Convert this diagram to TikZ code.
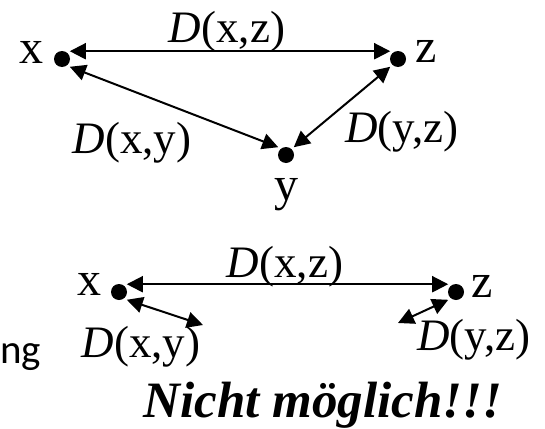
\documentclass[tikz,border=0pt]{standalone}
\usepackage{fontspec}
\setmainfont{Liberation Serif}
\newfontfamily\calibri{Carlito}
\usetikzlibrary{arrows.meta,positioning}

\begin{document}
\begin{tikzpicture}[
  x=1pt, y=-1pt,
  dot/.style={circle, fill, inner sep=0pt, minimum size=16pt, outer sep=3pt},
  ptlabel/.style={font=\fontsize{48}{48}\selectfont, inner sep=0pt},
  dist/.style={font=\fontsize{45}{45}\selectfont, inner sep=0pt},
  arrow/.style={{Triangle[length=16pt,width=16pt]}-{Triangle[length=16pt,width=16pt]}, line width=2pt}
]
\useasboundingbox (0,0) rectangle (545,428);

% triangle: all three distances
\node[dot] (x) at (62,59) {};
\node[dot] (z) at (398,59) {};
\node[dot] (y) at (286,155) {};
\node[ptlabel, left=7pt of x, yshift=7pt] (xl) {x};
\node[ptlabel, right=6pt of z, yshift=8pt] (zl) {z};
\node[ptlabel, below=12pt of y] (yl) {y};

\draw[arrow] (x.north east) -- (z.north west);
\draw[arrow] (x.south east) -- (y.north west);
\draw[arrow] (y.north east) -- (z.south west);

\node[dist] (dxz) at (227,32) {\textit{D}(x,z)};
\node[dist] (dxy) at (132,143) {\textit{D}(x,y)};
\node[dist] (dyz) at (402,132) {\textit{D}(y,z)};

% second case
\node[dot] (x2) at (119,292) {};
\node[dot] (z2) at (456,292) {};
\node[ptlabel, left=6pt of x2, yshift=8pt] (xl2) {x};
\node[ptlabel, right=4pt of z2, yshift=6pt] (zl2) {z};
\coordinate (ex) at (203,325);
\coordinate (ez) at (398,323);

\draw[arrow] (x2.north east) -- (z2.north west);
\draw[arrow] (x2.south east) -- (ex);
\draw[arrow] (z2.south west) -- (ez);

\node[dist] (dxz2) at (285,267) {\textit{D}(x,z)};
\node[dist] (dxy2) at (141,347) {\textit{D}(x,y)};
\node[dist] (dyz2) at (474,340) {\textit{D}(y,z)};

\node[font=\fontsize{51}{51}\selectfont\bfseries\itshape, inner sep=0pt, anchor=base] (nm) at (323,417) {Nicht möglich!!!};
\node[font=\calibri\fontsize{41}{41}\selectfont, inner sep=0pt, anchor=base west] (ng) at (0,363) {ng};
\end{tikzpicture}
\end{document}
